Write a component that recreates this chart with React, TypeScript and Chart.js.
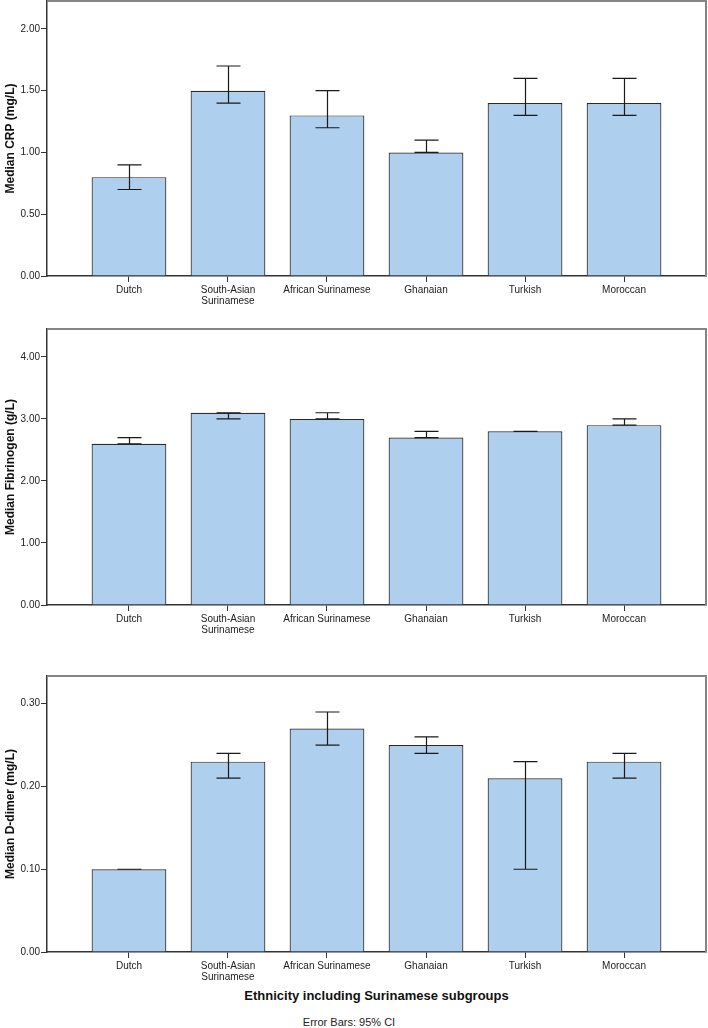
import React, { useEffect, useRef } from "react";
import { Chart, registerables } from "chart.js";

Chart.register(...registerables);

const categories: string[][] = [
  ["Dutch"],
  ["South-Asian", "Surinamese"],
  ["African Surinamese"],
  ["Ghanaian"],
  ["Turkish"],
  ["Moroccan"],
];

const crpMedian = [0.8, 1.5, 1.3, 1.0, 1.4, 1.4];
const crpLower = [0.7, 1.4, 1.2, 1.0, 1.3, 1.3];
const crpUpper = [0.9, 1.7, 1.5, 1.1, 1.6, 1.6];
const crpTicks = [0, 0.5, 1.0, 1.5, 2.0];

const fibMedian = [2.6, 3.1, 3.0, 2.7, 2.8, 2.9];
const fibLower = [2.6, 3.0, 3.0, 2.7, 2.8, 2.9];
const fibUpper = [2.7, 3.1, 3.1, 2.8, 2.8, 3.0];
const fibTicks = [0, 1, 2, 3, 4];

const ddMedian = [0.1, 0.23, 0.27, 0.25, 0.21, 0.23];
const ddLower = [0.1, 0.21, 0.25, 0.24, 0.1, 0.21];
const ddUpper = [0.1, 0.24, 0.29, 0.26, 0.23, 0.24];
const ddTicks = [0, 0.1, 0.2, 0.3];

const FONT = "'Liberation Sans', Arial, Helvetica, sans-serif";

type PanelProps = {
  top: number;
  height: number;
  median: number[];
  lower: number[];
  upper: number[];
  yMax: number;
  yTicks: number[];
  title: string;
};

function Panel({ top, height, median, lower, upper, yMax, yTicks, title }: PanelProps) {
  const ref = useRef<HTMLCanvasElement | null>(null);

  useEffect(() => {
    if (!ref.current) return;

    const errorBars = {
      id: "errorBars",
      afterDatasetsDraw(chart: any) {
        const { ctx } = chart;
        const xs = chart.scales.x;
        const ys = chart.scales.y;
        ctx.save();
        ctx.strokeStyle = "#1a1a1a";
        ctx.lineWidth = 1.2;
        for (let i = 0; i < median.length; i++) {
          const x = Math.round(xs.getPixelForValue(i)) + 0.5;
          const yl = ys.getPixelForValue(lower[i]);
          const yu = ys.getPixelForValue(upper[i]);
          ctx.beginPath();
          ctx.moveTo(x, yl);
          ctx.lineTo(x, yu);
          ctx.moveTo(x - 12, yl);
          ctx.lineTo(x + 12, yl);
          ctx.moveTo(x - 12, yu);
          ctx.lineTo(x + 12, yu);
          ctx.stroke();
        }
        ctx.restore();
      },
    };

    const frame = {
      id: "frame",
      afterDraw(chart: any) {
        const { ctx, chartArea } = chart;
        ctx.save();
        ctx.strokeStyle = "#858585";
        ctx.lineWidth = 2;
        ctx.beginPath();
        ctx.moveTo(chartArea.left, chartArea.top);
        ctx.lineTo(chartArea.right, chartArea.top);
        ctx.lineTo(chartArea.right, chartArea.bottom);
        ctx.stroke();
        ctx.restore();
      },
    };

    const chart = new Chart(ref.current, {
      type: "bar",
      data: {
        datasets: [
          {
            data: median.map((v, i) => ({ x: i, y: v })),
            backgroundColor: "#AECFEE",
            borderColor: "#2a2a2a",
            borderWidth: 1.2,
            barPercentage: 0.755,
            categoryPercentage: 1,
          },
        ],
      },
      options: {
        animation: false,
        responsive: false,
        devicePixelRatio: 1,
        layout: { padding: { top: 1, right: 2, left: 0, bottom: 0 } },
        plugins: {
          legend: { display: false },
          tooltip: { enabled: false },
        },
        scales: {
          x: {
            type: "linear",
            min: -0.828,
            max: 5.828,
            offset: false,
            afterBuildTicks: (s: any) => {
              s.ticks = categories.map((_, i) => ({ value: i }));
            },
            afterFit: (s: any) => {
              s.height = 34;
              s.paddingLeft = 0;
              s.paddingRight = 0;
            },
            ticks: {
              autoSkip: false,
              maxRotation: 0,
              minRotation: 0,
              padding: 2.5,
              color: "#222",
              font: { family: FONT, size: 10, lineHeight: 1.1 },
              callback: (v: any) => {
                const c = categories[v as number];
                return c ? (c.length === 1 ? c[0] : c) : "";
              },
            },
            grid: {
              display: true,
              offset: false,
              drawOnChartArea: false,
              drawTicks: true,
              tickLength: 6,
              color: "#333",
              lineWidth: 1,
            },
            border: { display: true, color: "#333", width: 1.5 },
          },
          y: {
            type: "linear",
            min: 0,
            max: yMax,
            afterBuildTicks: (s: any) => {
              s.ticks = yTicks.map((v) => ({ value: v }));
            },
            afterFit: (s: any) => {
              s.width = 47;
              s.paddingTop = 0;
              s.paddingBottom = 0;
            },
            ticks: {
              padding: 1,
              color: "#222",
              font: { family: FONT, size: 10 },
              callback: (v: any) => Number(v).toFixed(2),
            },
            grid: {
              display: true,
              drawOnChartArea: false,
              drawTicks: true,
              tickLength: 6,
              color: "#333",
              lineWidth: 1,
            },
            border: { display: true, color: "#333", width: 1.5 },
            title: {
              display: true,
              text: title,
              color: "#111",
              font: { family: FONT, size: 12, weight: "bold" },
              padding: { top: 3, bottom: 0 },
            },
          },
        },
      },
      plugins: [errorBars, frame],
    } as any);

    return () => chart.destroy();
  }, []);

  return (
    <canvas
      ref={ref}
      width={708}
      height={height}
      style={{ position: "absolute", left: 0, top, width: 708, height, display: "block" }}
    />
  );
}

export default function App() {
  return (
    <div
      style={{
        position: "absolute",
        left: 0,
        top: 0,
        width: 708,
        height: 1028,
        background: "#fff",
        overflow: "hidden",
        fontFamily: FONT,
      }}
    >
      <Panel
        top={0}
        height={310}
        median={crpMedian}
        lower={crpLower}
        upper={crpUpper}
        yMax={2.226}
        yTicks={crpTicks}
        title="Median CRP (mg/L)"
      />
      <Panel
        top={328}
        height={311}
        median={fibMedian}
        lower={fibLower}
        upper={fibUpper}
        yMax={4.45}
        yTicks={fibTicks}
        title="Median Fibrinogen (g/L)"
      />
      <Panel
        top={675}
        height={311}
        median={ddMedian}
        lower={ddLower}
        upper={ddUpper}
        yMax={0.3335}
        yTicks={ddTicks}
        title="Median D-dimer (mg/L)"
      />
      <div
        style={{
          position: "absolute",
          left: 47,
          width: 659,
          top: 987,
          textAlign: "center",
          fontWeight: "bold",
          fontSize: 13,
          lineHeight: "18px",
          color: "#111",
        }}
      >
        Ethnicity including Surinamese subgroups
      </div>
      <div
        style={{
          position: "absolute",
          left: 0,
          width: 698,
          top: 1015,
          textAlign: "center",
          fontSize: 11,
          lineHeight: "14px",
          color: "#222",
        }}
      >
        Error Bars: 95% CI
      </div>
    </div>
  );
}
